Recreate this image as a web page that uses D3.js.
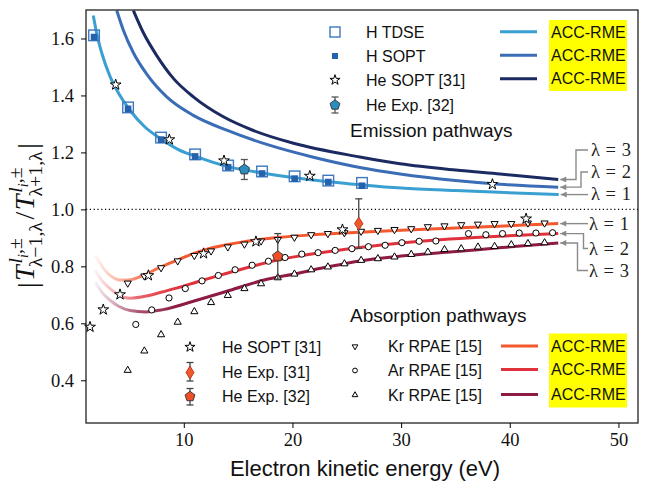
<!DOCTYPE html>
<html><head><meta charset="utf-8">
<script src="https://cdn.jsdelivr.net/npm/d3@7"></script>
<style>body{margin:0;background:#fff} svg{display:block}</style>
</head><body><svg id="c" width="647" height="481"></svg>
<script>
// ---------------- data ----------------
const xTicks = [10, 20, 30, 40, 50];
const yTicks = [0.4, 0.6, 0.8, 1.0, 1.2, 1.4, 1.6];

// emission ACC-RME curves
const emL1X = [1.67, 1.98, 2.45, 3.21, 3.83, 5.05, 6.4, 7.91, 9.5, 11.04, 14.08, 17.2, 20.2, 23.3, 26.4, 30.0, 35.0, 39.0, 44.5];
const emL1Y = [1.681, 1.619, 1.549, 1.467, 1.419, 1.348, 1.29, 1.247, 1.21, 1.187, 1.15, 1.128, 1.111, 1.097, 1.086, 1.075, 1.066, 1.060, 1.052];
const emL2X = [3.83, 4.43, 5.36, 6.59, 8.43, 10.88, 13.95, 17.64, 21.93, 26.2, 29.9, 35.0, 39.1, 44.46];
const emL2Y = [1.698, 1.63, 1.55, 1.475, 1.395, 1.33, 1.278, 1.228, 1.183, 1.147, 1.124, 1.101, 1.088, 1.078];
const emL3X = [5.36, 6.28, 7.51, 9.04, 10.88, 13.64, 16.4, 20.1, 26.2, 29.9, 35.0, 39.1, 44.46];
const emL3Y = [1.698, 1.62, 1.54, 1.46, 1.395, 1.325, 1.277, 1.232, 1.184, 1.160, 1.138, 1.124, 1.105];

// absorption ACC-RME curves
const abL1X = [1.83, 2.3, 2.75, 3.21, 3.67, 4.2, 4.84, 5.6, 6.59, 8.0, 9.66, 11.2, 12.72, 15.8, 18.86, 21.9, 26.2, 30.0, 34.5, 39.0, 44.46];
const abL1Y = [0.839, 0.81, 0.786, 0.768, 0.757, 0.752, 0.752, 0.758, 0.774, 0.80, 0.826, 0.849, 0.866, 0.888, 0.902, 0.911, 0.920, 0.927, 0.934, 0.941, 0.950];
const abL2X = [1.83, 2.5, 3.21, 4.0, 5.05, 6.59, 8.0, 9.66, 11.2, 12.72, 15.8, 18.86, 21.9, 26.2, 30.0, 34.5, 39.0, 44.46];
const abL2Y = [0.786, 0.748, 0.722, 0.70, 0.688, 0.696, 0.71, 0.727, 0.745, 0.762, 0.795, 0.824, 0.844, 0.866, 0.882, 0.896, 0.906, 0.915];
const abL3X = [1.83, 2.5, 3.21, 4.0, 5.05, 6.5, 8.09, 11.19, 14.26, 17.3, 20.4, 23.5, 26.2, 30.0, 34.5, 39.0, 44.46];
const abL3Y = [0.745, 0.707, 0.681, 0.660, 0.645, 0.640, 0.648, 0.681, 0.716, 0.751, 0.775, 0.800, 0.819, 0.836, 0.850, 0.865, 0.882];

// emission markers
const hTdseX = [1.74, 4.87, 7.91, 11.04, 14.08, 17.2, 20.2, 23.3, 26.4];
const hTdseY = [1.611, 1.358, 1.252, 1.193, 1.154, 1.133, 1.116, 1.101, 1.093];
const hSoptX = [1.74, 4.87, 7.91, 11.04, 14.08, 17.2, 20.2, 23.3, 26.4];
const hSoptY = [1.605, 1.353, 1.245, 1.186, 1.148, 1.126, 1.108, 1.096, 1.083];
const heSoptEmX = [3.73, 8.67, 13.7, 21.6, 38.4];
const heSoptEmY = [1.4375, 1.245, 1.171, 1.117, 1.088];
const heExp32EmX = [15.57];
const heExp32EmY = [1.14];
const heExp32EmErr = [0.035];

// absorption markers
const heSoptAbX = [1.37, 2.59, 4.13, 6.74, 11.82, 16.64, 24.6, 41.5];
const heSoptAbY = [0.587, 0.648, 0.701, 0.768, 0.845, 0.887, 0.929, 0.967];
const heExp31AbX = [26.1];
const heExp31AbY = [0.950];
const heExp31AbErr = [0.087];
const heExp32AbX = [18.65];
const heExp32AbY = [0.835];
const heExp32AbErr = [0.08];
const krDownX = [4.84, 6.37, 7.91, 9.44, 10.97, 12.51, 14.05, 15.58, 17.11, 18.65, 20.18, 21.72, 23.26, 24.78, 26.32, 27.86, 29.39, 30.93, 32.46, 33.99, 35.53, 37.07, 38.6, 40.14, 41.67, 43.2];
const krDownY = [0.741, 0.766, 0.795, 0.819, 0.838, 0.854, 0.868, 0.878, 0.889, 0.894, 0.902, 0.911, 0.915, 0.918, 0.923, 0.926, 0.929, 0.932, 0.939, 0.942, 0.946, 0.948, 0.950, 0.950, 0.952, 0.952];
const arX = [5.58, 7.05, 8.64, 10.14, 11.68, 13.18, 14.72, 16.29, 17.79, 19.32, 20.86, 22.36, 23.93, 25.47, 26.99, 28.53, 30.07, 31.66, 33.2, 36.2, 37.8, 39.33, 40.87, 42.41, 43.94];
const arY = [0.596, 0.647, 0.689, 0.722, 0.749, 0.768, 0.788, 0.804, 0.818, 0.831, 0.843, 0.848, 0.856, 0.862, 0.869, 0.874, 0.883, 0.888, 0.889, 0.915, 0.911, 0.915, 0.917, 0.917, 0.918];
const krUpX = [4.84, 6.37, 7.91, 9.44, 10.97, 12.51, 14.05, 15.58, 17.11, 18.65, 20.18, 21.72, 23.26, 24.78, 26.32, 27.86, 29.39, 30.93, 32.46, 33.99, 35.53, 37.07, 38.6, 40.14, 41.67, 43.2];
const krUpY = [0.435, 0.503, 0.560, 0.604, 0.641, 0.673, 0.698, 0.722, 0.739, 0.760, 0.773, 0.788, 0.798, 0.809, 0.821, 0.827, 0.833, 0.842, 0.850, 0.859, 0.862, 0.868, 0.870, 0.876, 0.880, 0.883];

const emColors = ["#3a9fd1", "#3a6db5", "#1b2a60"];
const abColors = ["#f4582e", "#e0323c", "#8e1b45"];
const emLegendLabels = ["H TDSE", "H SOPT", "He SOPT [31]", "He Exp. [32]"];
const abLegendLeft = ["He SOPT [31]", "He Exp. [31]", "He Exp. [32]"];
const abLegendRight = ["Kr RPAE [15]", "Ar RPAE [15]", "Kr RPAE [15]"];
const accLabel = "ACC-RME";
const lambdaLabels = ["λ = 1", "λ = 2", "λ = 3"];

// ---------------- drawing ----------------
const W = 647, H = 481;
const L = 86, R = 638, T = 10, B = 423;
const sans = "'Liberation Sans', Arial, sans-serif";
const serif = "'Liberation Serif', 'DejaVu Serif', serif";
const svg = d3.select("#c");
const x = d3.scaleLinear().domain([1, 51.8]).range([L, R]);
const y = d3.scaleLinear().domain([0.25, 1.7]).range([B, T]);
const zip = (a, b) => a.map((v, i) => [v, b[i]]);

const defs = svg.append("defs");
defs.append("clipPath").attr("id", "clip").append("rect").attr("x", L).attr("y", T).attr("width", R - L).attr("height", B - T);
defs.append("marker").attr("id", "ah").attr("viewBox", "0 0 10 10").attr("refX", 10).attr("refY", 5)
  .attr("markerWidth", 7).attr("markerHeight", 6).attr("markerUnits", "userSpaceOnUse").attr("orient", "auto")
  .append("path").attr("d", "M0,0 L10,5 L0,10 z").attr("fill", "#8a8a8a");
abColors.forEach((c, i) => {
  const g = defs.append("linearGradient").attr("id", "fade" + i).attr("gradientUnits", "userSpaceOnUse")
    .attr("x1", x(1.8)).attr("x2", x(9.5)).attr("y1", 0).attr("y2", 0);
  [[0, 0.06], [0.3, 0.45], [0.55, 0.78], [1, 1]].forEach(([o, a]) =>
    g.append("stop").attr("offset", o).attr("stop-color", c).attr("stop-opacity", a));
});

// dotted reference line
svg.append("line").attr("x1", L).attr("x2", R).attr("y1", y(1)).attr("y2", y(1))
  .attr("stroke", "#000").attr("stroke-width", 1.1).attr("stroke-dasharray", "1.2,2.6");

const line = d3.line().x(d => x(d[0])).y(d => y(d[1])).curve(d3.curveMonotoneX);
const plot = svg.append("g").attr("clip-path", "url(#clip)");
[[emL1X, emL1Y], [emL2X, emL2Y], [emL3X, emL3Y]].forEach(([a, b], i) =>
  plot.append("path").attr("d", line(zip(a, b))).attr("fill", "none").attr("stroke", emColors[i]).attr("stroke-width", 3));
[[abL1X, abL1Y], [abL2X, abL2Y], [abL3X, abL3Y]].forEach(([a, b], i) =>
  plot.append("path").attr("d", line(zip(a, b))).attr("fill", "none").attr("stroke", `url(#fade${i})`).attr("stroke-width", 3));

// marker helpers
function sym(g, type, size, cx, cy, fill, stroke, sw, rot) {
  return g.append("path").attr("d", d3.symbol().type(type).size(size)())
    .attr("transform", `translate(${cx},${cy})` + (rot ? ` rotate(${rot})` : ""))
    .attr("fill", fill).attr("stroke", stroke).attr("stroke-width", sw);
}
function pent(g, cx, cy, r, fill) {
  const pts = d3.range(5).map(k => { const a = -Math.PI / 2 + k * 2 * Math.PI / 5; return [cx + r * Math.cos(a), cy + r * Math.sin(a)]; });
  g.append("path").attr("d", "M" + pts.join("L") + "Z").attr("fill", fill).attr("stroke", "#333").attr("stroke-width", 0.9);
}
function diam(g, cx, cy, w, h, fill) {
  g.append("path").attr("d", `M${cx},${cy - h}L${cx + w},${cy}L${cx},${cy + h}L${cx - w},${cy}Z`).attr("fill", fill).attr("stroke", "#b03020").attr("stroke-width", 0.9);
}
function errbar(g, cx, y1, y2, col) {
  g.append("line").attr("x1", cx).attr("x2", cx).attr("y1", y1).attr("y2", y2).attr("stroke", col).attr("stroke-width", 1.3);
  [y1, y2].forEach(v => g.append("line").attr("x1", cx - 3.5).attr("x2", cx + 3.5).attr("y1", v).attr("y2", v).attr("stroke", col).attr("stroke-width", 1.3));
}

const mk = svg.append("g");
// absorption RPAE markers
krDownX.forEach((v, i) => sym(mk, d3.symbolTriangle, 22, x(v), y(krDownY[i]), "#fff", "#000", 1, 180));
arX.forEach((v, i) => mk.append("circle").attr("cx", x(v)).attr("cy", y(arY[i])).attr("r", 3.1).attr("fill", "#fff").attr("stroke", "#000").attr("stroke-width", 1));
krUpX.forEach((v, i) => sym(mk, d3.symbolTriangle, 22, x(v), y(krUpY[i]), "#fff", "#000", 1, 0));
heSoptAbX.forEach((v, i) => sym(mk, d3.symbolStar, 36, x(v), y(heSoptAbY[i]), "#fff", "#000", 1, 0));
// emission markers
hTdseX.forEach((v, i) => mk.append("rect").attr("x", x(v) - 5.3).attr("y", y(hTdseY[i]) - 5.3).attr("width", 10.6).attr("height", 10.6)
  .attr("fill", "none").attr("stroke", "#3d78c0").attr("stroke-width", 1.4));
hSoptX.forEach((v, i) => mk.append("rect").attr("x", x(v) - 3.3).attr("y", y(hSoptY[i]) - 3.3).attr("width", 6.6).attr("height", 6.6)
  .attr("fill", "#2462ac"));
heSoptEmX.forEach((v, i) => sym(mk, d3.symbolStar, 36, x(v), y(heSoptEmY[i]), "#fff", "#000", 1, 0));
heExp32EmX.forEach((v, i) => { errbar(mk, x(v), y(heExp32EmY[i] + heExp32EmErr[i]), y(heExp32EmY[i] - heExp32EmErr[i]), "#555"); pent(mk, x(v), y(heExp32EmY[i]), 5.5, "#2b8cbe"); });
heExp32AbX.forEach((v, i) => { errbar(mk, x(v), y(heExp32AbY[i] + heExp32AbErr[i]), y(heExp32AbY[i] - heExp32AbErr[i]), "#444"); pent(mk, x(v), y(heExp32AbY[i]), 5.5, "#ee4e2a"); });
heExp31AbX.forEach((v, i) => { errbar(mk, x(v), y(heExp31AbY[i] + heExp31AbErr[i]), y(heExp31AbY[i] - heExp31AbErr[i]), "#444"); diam(mk, x(v), y(heExp31AbY[i]), 4.2, 6.5, "#f05a2a"); });

// frame + axes
svg.append("rect").attr("x", L).attr("y", T).attr("width", R - L).attr("height", B - T).attr("fill", "none").attr("stroke", "#222").attr("stroke-width", 1.3);
const gx = svg.append("g").attr("transform", `translate(0,${B})`)
  .call(d3.axisBottom(x).tickValues(xTicks).tickSize(5).tickSizeOuter(0).tickPadding(5).tickFormat(d3.format("d")));
gx.select(".domain").remove();
gx.selectAll("text").attr("font-family", serif).attr("font-size", 18.5).attr("fill", "#111");
const gy = svg.append("g").attr("transform", `translate(${L},0)`)
  .call(d3.axisLeft(y).tickValues(yTicks).tickSize(5).tickSizeOuter(0).tickPadding(7).tickFormat(d3.format(".1f")));
gy.select(".domain").remove();
gy.selectAll("text").attr("font-family", serif).attr("font-size", 18.5).attr("fill", "#111");

svg.append("text").attr("x", (222 + 508) / 2).attr("y", 476).attr("text-anchor", "middle")
  .attr("font-family", sans).attr("font-size", 22).attr("fill", "#111").text("Electron kinetic energy (eV)");

// y label built from pieces
(function () {
  const g = svg.append("g").attr("fill", "#111");
  const M = 22, S = 15.5, S2 = 11;
  let cx = 0;
  const add = (t, size, xx, yy, it) => g.append("text").attr("x", xx).attr("y", yy).attr("font-size", size)
    .attr("font-style", it ? "italic" : "normal").attr("font-family", serif).text(t);
  const w = el => el.node().getComputedTextLength();
  let e = add("|", M, cx, 2); cx += w(e) + 1;
  function Tpart(sub) {
    const t = add("T", M, cx, 0, true); cx += w(t) + 0.5;
    const sx = cx;
    const a = add("l", S, sx + 1, -0.42 * M, true); let ax = sx + 1 + w(a);
    const b = add("i", S2, ax, -0.42 * M + 0.3 * S, true); ax += w(b);
    const c = add(",±", S, ax, -0.42 * M); ax += w(c);
    const d = add(sub, S, sx - 2, 0.3 * M);
    cx = Math.max(ax, sx - 2 + w(d)) + 2;
  }
  Tpart("λ−1,λ");
  e = add("/", M, cx, 0); cx += w(e) + 1;
  Tpart("λ+1,λ");
  e = add("|", M, cx, 2); cx += w(e);
  const target = 145, k = target / cx;
  g.attr("transform", `translate(34,${215.5 + target / 2}) rotate(-90) scale(${k})`);
})();

// ---------------- legends ----------------
const lg = svg.append("g").attr("font-family", sans).attr("font-size", 16).attr("fill", "#111");
// emission legend
const emRows = [32, 56, 80, 105];
lg.append("rect").attr("x", 335 - 5).attr("y", emRows[0] - 5).attr("width", 10).attr("height", 10).attr("fill", "none").attr("stroke", "#3d78c0").attr("stroke-width", 1.4);
lg.append("rect").attr("x", 335 - 3).attr("y", emRows[1] - 3).attr("width", 6).attr("height", 6).attr("fill", "#2462ac");
sym(lg, d3.symbolStar, 32, 335, emRows[2], "#fff", "#000", 1, 0);
errbar(lg, 335, emRows[3] - 8, emRows[3] + 8, "#555");
pent(lg, 335, emRows[3], 5.2, "#2b8cbe");
emLegendLabels.forEach((t, i) => lg.append("text").attr("x", 366).attr("y", emRows[i]).attr("dy", "0.36em").text(t));
const accRows = [31.8, 55.2, 78.7];
lg.append("rect").attr("x", 549).attr("y", 20).attr("width", 78).attr("height", 71).attr("fill", "#ffff00");
accRows.forEach((r, i) => {
  lg.append("line").attr("x1", 500).attr("x2", 537).attr("y1", r).attr("y2", r).attr("stroke", emColors[i]).attr("stroke-width", 3);
  lg.append("text").attr("x", 551).attr("y", r).attr("dy", "0.36em").text(accLabel);
});
lg.append("text").attr("x", 350).attr("y", 130).attr("dy", "0.36em").attr("font-size", 19).text("Emission pathways");

// absorption legend
lg.append("text").attr("x", 350).attr("y", 315).attr("dy", "0.36em").attr("font-size", 19).text("Absorption pathways");
const abRowsL = [347, 372.5, 396.5];
sym(lg, d3.symbolStar, 32, 190, abRowsL[0], "#fff", "#000", 1, 0);
errbar(lg, 190, abRowsL[1] - 10, abRowsL[1] + 8.5, "#444");
diam(lg, 190, abRowsL[1], 4, 6.5, "#f05a2a");
errbar(lg, 190, abRowsL[2] - 8, abRowsL[2] + 8.5, "#444");
pent(lg, 190, abRowsL[2], 5.2, "#ee4e2a");
abLegendLeft.forEach((t, i) => lg.append("text").attr("x", 222).attr("y", abRowsL[i]).attr("dy", "0.36em").text(t));
const abRowsR = [346.5, 370.5, 395];
sym(lg, d3.symbolTriangle, 14, 355, abRowsR[0], "#fff", "#000", 1, 180);
lg.append("circle").attr("cx", 355).attr("cy", abRowsR[1]).attr("r", 2.4).attr("fill", "#fff").attr("stroke", "#000").attr("stroke-width", 1);
sym(lg, d3.symbolTriangle, 14, 355, abRowsR[2], "#fff", "#000", 1, 0);
abLegendRight.forEach((t, i) => lg.append("text").attr("x", 388).attr("y", abRowsR[i]).attr("dy", "0.36em").text(t));
lg.append("rect").attr("x", 549).attr("y", 333.5).attr("width", 78).attr("height", 74).attr("fill", "#ffff00");
const abLineRows = [346, 369.5, 394.5];
abLineRows.forEach((r, i) => {
  lg.append("line").attr("x1", 501).attr("x2", 538).attr("y1", r).attr("y2", r).attr("stroke", abColors[i]).attr("stroke-width", 3);
  lg.append("text").attr("x", 551).attr("y", r).attr("dy", "0.36em").text(accLabel);
});

// ---------------- lambda annotations ----------------
const an = svg.append("g");
const emEnd = [[emL1X, emL1Y], [emL2X, emL2Y], [emL3X, emL3Y]].map(([a, b]) => [x(a[a.length - 1]), y(b[b.length - 1])]);
const abEnd = [[abL1X, abL1Y], [abL2X, abL2Y], [abL3X, abL3Y]].map(([a, b]) => [x(a[a.length - 1]), y(b[b.length - 1])]);
const emText = [194, 172, 150];
const abText = [223.5, 248.5, 270.5];
const emBend = [null, 581, 576];
const abBend = [null, 583.5, 577.5];
function annot(end, ty, bend) {
  const tipX = end[0] + 2;
  let d;
  if (bend === null) d = `M588,${end[1]}L${tipX},${end[1]}`;
  else d = `M588,${ty}L${bend},${ty}L${bend},${end[1]}L${tipX},${end[1]}`;
  an.append("path").attr("d", d).attr("fill", "none").attr("stroke", "#8a8a8a").attr("stroke-width", 1.4).attr("marker-end", "url(#ah)");
}
[0, 1, 2].forEach(i => {
  annot(emEnd[i], emText[i], emBend[i]);
  annot(abEnd[i], abText[i], abBend[i]);
  an.append("text").attr("x", 591).attr("y", emText[i]).attr("dy", "0.34em").attr("font-family", serif).attr("font-size", 18.5).attr("word-spacing", 1).attr("fill", "#222").text(lambdaLabels[i]);
  an.append("text").attr("x", 589).attr("y", abText[i]).attr("dy", "0.34em").attr("font-family", serif).attr("font-size", 18.5).attr("word-spacing", 1).attr("fill", "#222").text(lambdaLabels[i]);
});
</script></body></html>
